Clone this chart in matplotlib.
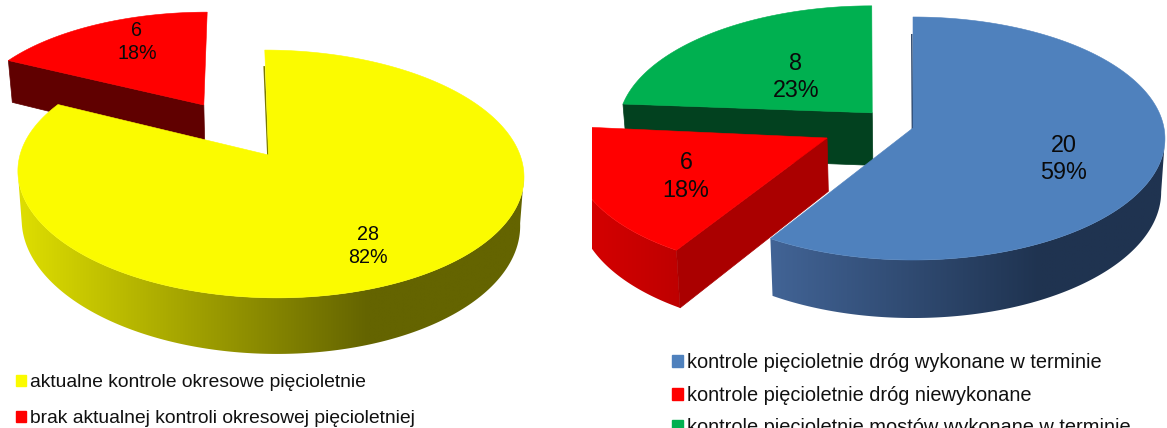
import numpy as np
import matplotlib
matplotlib.use("Agg")
import matplotlib.pyplot as plt
from matplotlib.patches import Polygon, Rectangle, Patch

plt.rcParams['font.family'] = ['Liberation Sans', 'DejaVu Sans']

# ---- data ----
left_labels = ["aktualne kontrole okresowe pięcioletnie",
               "brak aktualnej kontroli okresowej pięcioletniej"]
left_values = [28, 6]
left_percents = [82, 18]
right_labels = ["kontrole pięcioletnie dróg wykonane w terminie",
                "kontrole pięcioletnie dróg niewykonane",
                "kontrole pięcioletnie mostów wykonane w terminie"]
right_values = [20, 6, 8]
right_percents = [59, 18, 23]

# ---- layout / style ----
W, H = 1167, 428
TAPER = 0.985
LEFT_PIE = dict(cx=270, cy=155, rx=250, ry=121, k=0.153, sk=6, d=47.5)
RIGHT_PIE = dict(cx=913, cy=128, rx=251, ry=120.6, k=0.0864, sk=0, d=53)
LEFT_STYLE = [
    dict(top="#FBFB00", offset=(0, 0), nudge=(-1.5, 0), side=None, xr=(20, 367),
         rim=((222, 222, 0), (100, 100, 0)), sliver="#7A7A00"),
    dict(top="#FF0000", offset=(-0.272, 0.441), nudge=(0, 0), side="#600000", xr=None,
         rim=None, sliver=None),
]
RIGHT_STYLE = [
    dict(top="#4F81BD", offset=(0, 0), nudge=(0, 0), side=None, xr=(770, 1040),
         rim=((66, 100, 150), (31, 51, 80)), sliver="#2A4468"),
    dict(top="#FF0000", offset=(-0.34, -0.082), nudge=(0, 0), side="#AA0000", xr=(592, 680),
         rim=((212, 0, 0), (190, 0, 0)), sliver=None),
    dict(top="#00B050", offset=(-0.18, 0.11), nudge=(4, -2), side="#02411F", xr=None,
         rim=None, sliver=None),
]
LEFT_TEXT = [(368, 246), (137, 42)]
RIGHT_TEXT = [(1064, 159), (686, 176.5), (796, 77)]


def project(u, v, pie):
    s = 1.0 / (1.0 + pie["k"] * v)
    return pie["cx"] + (pie["rx"] * u - pie["sk"] * v) * s, pie["cy"] - pie["ry"] * v * s, pie["d"] * s


def lower(x, pie):
    return pie["cx"] + (np.asarray(x) - pie["cx"]) * TAPER


def draw_pie(ax, values, percents, pie, styles, texts, order, fontsize, spacing, clip_x=None):
    fractions = np.asarray(values, float) / np.sum(values)
    edges = np.concatenate([[0], np.cumsum(fractions)]) * 2 * np.pi
    clip = None
    if clip_x is not None:
        clip = Rectangle((clip_x, 0), W - clip_x, H, transform=ax.transData)
    for i in order:
        st = styles[i]
        du, dv = st["offset"]
        a = np.linspace(edges[i], edges[i + 1], 360)
        X, Y, D = project(du + np.sin(a), dv + np.cos(a), pie)
        ax0, ay0, ad0 = project(du, dv, pie)
        ax0 += st["nudge"][0]
        ay0 += st["nudge"][1]
        arts = []
        # curved outer wall: only the part facing the viewer, below the widest points
        if st["rim"]:
            front = np.cos(a) <= -pie["k"]
            Xf, Yf, Df = X[front], Y[front], D[front]
            outline = np.vstack([np.column_stack([Xf, Yf]),
                                 np.column_stack([lower(Xf, pie), Yf + Df])[::-1]])
            x0 = outline[:, 0].min() if clip_x is None else max(clip_x, outline[:, 0].min())
            x1 = outline[:, 0].max()
            xs = np.linspace(x0, x1, 800)
            t = np.clip((xs - st["xr"][0]) / (st["xr"][1] - st["xr"][0]), 0, 1)[None, :, None]
            c0, c1 = np.array(st["rim"][0]) / 255, np.array(st["rim"][1]) / 255
            img = ax.imshow(c0 + (c1 - c0) * t, extent=(x0, x1, outline[:, 1].max(), outline[:, 1].min()),
                            aspect="auto", interpolation="bilinear", zorder=1)
            img.set_clip_path(Polygon(outline, closed=True, transform=ax.transData))
        # flat cut wall facing the viewer
        if st["side"]:
            arts.append(ax.add_patch(Polygon(
                [(ax0, ay0), (X[0], Y[0]), (lower(X[0], pie), Y[0] + D[0]), (lower(ax0, pie), ay0 + ad0)],
                closed=True, fc=st["side"], ec=st["side"], lw=0.5, zorder=1)))
        # thin sliver of the wall at twelve o'clock
        if st["sliver"]:
            n = 0.16
            arts.extend(ax.plot([X[0] * (1 - n) + ax0 * n - 1.2, ax0 - 0.6],
                                [Y[0] * (1 - n) + ay0 * n, ay0 + 1],
                                color=st["sliver"], lw=1.1, zorder=1))
        # top face
        arts.append(ax.add_patch(Polygon(
            np.column_stack([np.r_[ax0, X], np.r_[ay0, Y]]),
            closed=True, fc=st["top"], ec=st["top"], lw=0.4, zorder=1)))
        if clip is not None:
            for art in arts:
                art.set_clip_path(clip)
    for v, p, (x, y) in zip(values, percents, texts):
        ax.text(x, y, f"{v}\n{p}%", ha="center", va="center", fontsize=fontsize,
                color="#0A0A0A", linespacing=spacing, zorder=10)


fig = plt.figure(figsize=(W / 100, H / 100), dpi=100)
ax = fig.add_axes([0, 0, 1, 1])
ax.axis("off")

draw_pie(ax, left_values, left_percents, LEFT_PIE, LEFT_STYLE, LEFT_TEXT, [1, 0], 14.2, 1.3)
draw_pie(ax, right_values, right_percents, RIGHT_PIE, RIGHT_STYLE, RIGHT_TEXT, [2, 1, 0], 16.8, 1.25, clip_x=592)

ax.set_xlim(0, W)
ax.set_ylim(H, 0)

leg1 = ax.legend(handles=[Patch(color=s["top"], label=l) for s, l in zip(LEFT_STYLE, left_labels)],
                 loc="upper left", bbox_to_anchor=(16, 374), bbox_transform=ax.transData,
                 frameon=False, fontsize=13.87, handlelength=0.5, handleheight=0.5,
                 handletextpad=0.25, labelspacing=0.98, borderpad=0, borderaxespad=0,
                 labelcolor="#111111")
ax.add_artist(leg1)
ax.legend(handles=[Patch(color=s["top"], label=l) for s, l in zip(RIGHT_STYLE, right_labels)],
          loc="upper left", bbox_to_anchor=(672, 353), bbox_transform=ax.transData,
          frameon=False, fontsize=14.44, handlelength=0.55, handleheight=0.55,
          handletextpad=0.2, labelspacing=0.685, borderpad=0, borderaxespad=0,
          labelcolor="#111111")

fig.savefig("out.png", dpi=100)
